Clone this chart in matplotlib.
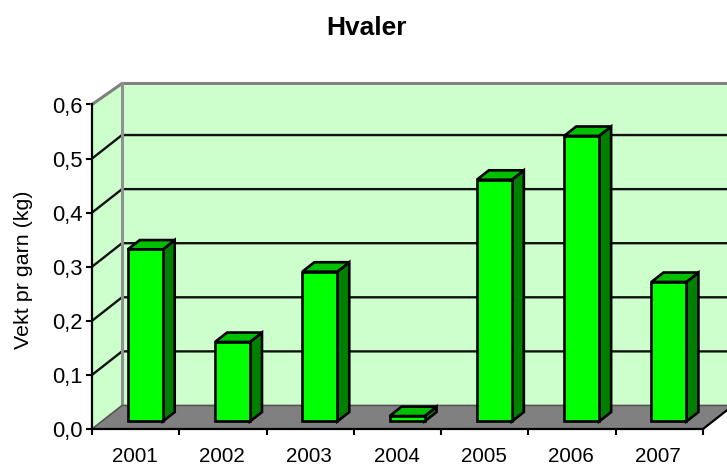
import matplotlib
matplotlib.use("Agg")
import matplotlib.pyplot as plt
from matplotlib.patches import Polygon

plt.rcParams['font.family'] = ['Liberation Sans', 'DejaVu Sans']

years = ['2001', '2002', '2003', '2004', '2005', '2006', '2007']
values = [0.318, 0.147, 0.277, 0.01, 0.447, 0.528, 0.258]
yticks = [0.0, 0.1, 0.2, 0.3, 0.4, 0.5, 0.6]

W, H = 727, 465
# oblique depth of the fake 3d box, in data units
DX = 30 / 87.3
DY = 23.5 / 540.0
TOP_DY = 21 / 540.0  # back wall top edge sits a bit lower than the grid spacing gives
BAR_W = 0.40
GAP0 = 0.32   # where the bar sits inside the depth
GAP1 = 0.72


def poly(ax, pts, color, ec='none', lw=0, z=1):
    ax.add_patch(Polygon(pts, closed=True, facecolor=color, edgecolor=ec,
                         linewidth=lw, zorder=z, clip_on=False, joinstyle='miter'))


fig = plt.figure(figsize=(W / 100, H / 100), dpi=100)
ax = fig.add_axes([92 / W, 1 - 429 / H, 611 / W, 324.5 / H])
ax.patch.set_visible(False)
n = len(years)
ax.set_xlim(0, n)
ax.set_ylim(0, 0.6)
ymax = yticks[-1]

# walls and floor
poly(ax, [(DX, DY), (n + DX, DY), (n + DX, ymax + TOP_DY), (DX, ymax + TOP_DY)], '#CCFFCC', z=1)
poly(ax, [(0, 0), (DX, DY), (DX, ymax + TOP_DY), (0, ymax)], '#CCFFCC', z=1)
poly(ax, [(0, 0), (n, 0), (n + DX, DY), (DX, DY)], '#808080', z=2)

# gridlines on the walls
for t in yticks[1:-1]:
    ax.plot([0, DX, n + DX], [t, t + DY, t + DY], color='#111111', lw=1.7, zorder=2,
            clip_on=False, solid_joinstyle='miter')
ax.plot([0, DX, n + DX], [ymax, ymax + TOP_DY, ymax + TOP_DY], color='#808080', lw=2.2, zorder=2,
        clip_on=False)
ax.plot([DX, DX], [DY, ymax + TOP_DY], color='#909090', lw=2.2, zorder=2, clip_on=False)
ax.plot([0, DX, n + DX], [0, DY, DY], color='#555555', lw=1.2, zorder=3, clip_on=False)
ax.plot([n, n + DX], [0, DY], color='black', lw=1.6, zorder=3, clip_on=False)

# bars
for i, v in enumerate(values):
    x0 = i + 0.5 - BAR_W / 2 + GAP0 * DX
    x1 = x0 + BAR_W
    y0 = GAP0 * DY
    y1 = y0 + v
    ddx = (GAP1 - GAP0) * DX
    ddy = (GAP1 - GAP0) * DY
    poly(ax, [(x1, y0), (x1 + ddx, y0 + ddy), (x1 + ddx, y1 + ddy), (x1, y1)],
         '#008000', 'black', 1.9, 4)
    poly(ax, [(x0, y1), (x1, y1), (x1 + ddx, y1 + ddy), (x0 + ddx, y1 + ddy)],
         '#00C000', 'black', 1.9, 4)
    poly(ax, [(x0, y0), (x1, y0), (x1, y1), (x0, y1)], '#00FF00', 'black', 1.9, 5)

# axes
for s in ('top', 'right'):
    ax.spines[s].set_visible(False)
for s in ('left', 'bottom'):
    ax.spines[s].set_linewidth(1.6)
    ax.spines[s].set_zorder(6)
ax.set_yticks(yticks)
ax.set_yticklabels([('%.1f' % t).replace('.', ',') for t in yticks], fontsize=15.8)
ax.set_xticks(range(n + 1))
ax.set_xticklabels([''] * (n + 1))
ax.tick_params(axis='both', length=4, width=1.5, pad=3)
for i, y in enumerate(years):
    ax.annotate(y, (i + 0.5, 0), xytext=(-1, -27), textcoords='offset pixels', ha='center',
                va='center', fontsize=14.8)

ax.text((24 - 92) / 611, 1 - (270 - 104.5) / 324.5, 'Vekt pr garn (kg)', rotation=90,
        transform=ax.transAxes, ha='center', va='center', fontsize=15.4)
fig.text(366.5 / W, 1 - 28 / H, 'Hvaler', ha='center', va='center', fontsize=19,
         fontweight='bold')

fig.savefig('out.png', dpi=100)
